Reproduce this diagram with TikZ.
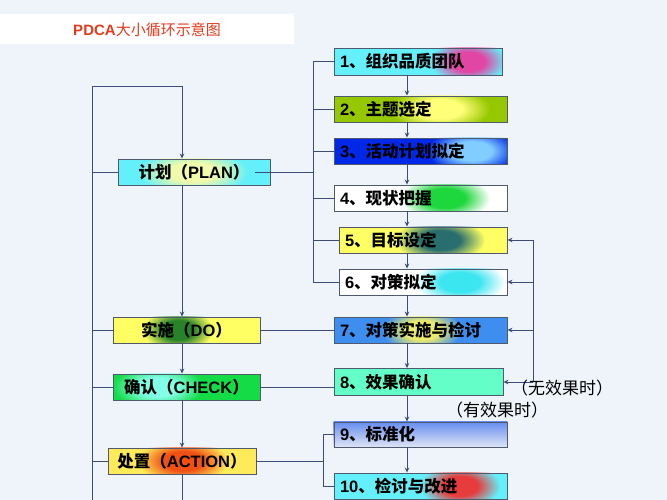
\documentclass[tikz,border=0pt]{standalone}
\usepackage{fontspec}
\setmainfont{Liberation Sans}
\newfontfamily\cjk{Noto Sans CJK SC}
\usetikzlibrary{arrows.meta,calc,fadings}
\pgfdeclarelayer{background}
\pgfsetlayers{background,main}
\definecolor{bgc}{RGB}{238,244,250}
\definecolor{linec}{RGB}{60,75,120}
\definecolor{bordc}{RGB}{80,90,110}
\definecolor{titlec}{RGB}{225,60,30}
\definecolor{cyanb}{RGB}{100,240,250}
\definecolor{pinkg}{RGB}{225,70,165}
\definecolor{oliveb}{RGB}{150,200,0}
\definecolor{yellg}{RGB}{255,255,120}
\definecolor{blueb}{RGB}{0,40,230}
\definecolor{blueg}{RGB}{130,205,255}
\definecolor{greeng}{RGB}{30,215,60}
\definecolor{yellb}{RGB}{255,255,100}
\definecolor{tealg}{RGB}{40,110,110}
\definecolor{cyang}{RGB}{60,230,240}
\definecolor{blue7}{RGB}{62,142,240}
\definecolor{yell7}{RGB}{235,235,110}
\definecolor{aquab}{RGB}{100,255,200}
\definecolor{top9}{RGB}{100,140,240}
\definecolor{bot9}{RGB}{225,230,245}
\definecolor{redg}{RGB}{230,60,60}
\definecolor{plang}{RGB}{240,250,170}
\definecolor{dog}{RGB}{40,130,40}
\definecolor{checkb}{RGB}{20,220,70}
\definecolor{checkg}{RGB}{130,255,230}
\definecolor{actb}{RGB}{255,235,90}
\definecolor{actg}{RGB}{240,80,20}
\pgfdeclareradialshading{glowsh}{\pgfpointorigin}{color(0bp)=(white); color(11bp)=(white); color(25bp)=(black); color(50bp)=(black)}
\pgfdeclarefading{glowp}{\pgfuseshading{glowsh}}
\newcommand\zh[1]{{\cjk #1}}
\newcommand\boxfill[5]{%
  \begin{pgfonlayer}{background}
    \fill[#2] (#1.north west) rectangle (#1.south east);
    \begin{scope}
      \clip (#1.north west) rectangle (#1.south east);
      \fill[#3, path fading=glowp] (#1.center -| #4,0) ellipse (#5pt and 22pt);
    \end{scope}
  \end{pgfonlayer}}
\tikzset{
  line/.style={draw=linec, line width=0.9pt},
  arr/.style={-{Stealth[length=5pt,width=4.5pt]}},
  rbox/.style={draw=bordc, line width=0.9pt, inner xsep=6pt, inner ysep=0pt,
    align=left, font=\bfseries\fontsize{16.5}{18}\selectfont},
  cbox/.style={draw=bordc, line width=0.9pt, inner xsep=0pt, inner ysep=0pt,
    align=center, font=\bfseries\fontsize{16.5}{18}\selectfont},
  lab/.style={font=\cjk\fontsize{17}{19}\selectfont, inner sep=0pt},
  ttl/.style={text=titlec, font=\fontsize{15}{17}\selectfont, inner sep=0pt}
}
\begin{document}
\begin{tikzpicture}[x=1pt,y=-1pt]
\useasboundingbox (0,0) rectangle (667,500);
\begin{pgfonlayer}{background}
  \fill[bgc] (0,0) rectangle (667,500);
  \fill[white] (0,14) rectangle (294,44);
\end{pgfonlayer}
\node[ttl] (t) at (147,30) {\textbf{PDCA}\zh{大小循环示意图}};

% coordinates
\coordinate (lx) at (92,86);
\coordinate (cx) at (182,0);
\coordinate (rx) at (407,0);
\coordinate (bus) at (313,0);
\coordinate (rbus) at (533,0);
\coordinate (abus) at (323,0);
\coordinate (bot) at (0,505);

% right column boxes
\node[rbox, text width=156pt, minimum height=27pt] (b1) at (418,61.5) {1\zh{、组织品质团队}};
\node[rbox, text width=161pt, minimum height=26pt] (b2) at (420.5,109) {2\zh{、主题选定}};
\node[rbox, text width=161pt, minimum height=26pt] (b3) at (420.5,151) {3\zh{、活动计划拟定}};
\node[rbox, text width=161pt, minimum height=26pt] (b4) at (420.5,198) {4\zh{、现状把握}};
\node[rbox, text width=156pt, minimum height=26pt] (b5) at (423,240) {5\zh{、目标设定}};
\node[rbox, text width=156pt, minimum height=26pt] (b6) at (423,282) {6\zh{、对策拟定}};
\node[rbox, text width=161pt, minimum height=26pt] (b7) at (420.5,330) {7\zh{、对策实施与检讨}};
\node[rbox, text width=157pt, minimum height=27pt] (b8) at (418.5,382) {8\zh{、效果确认}};
\node[rbox, text width=161pt, minimum height=25pt] (b9) at (420.5,434.5) {9\zh{、标准化}};
\node[rbox, text width=161pt, minimum height=26pt] (b10) at (420.5,486) {10\zh{、检讨与改进}};

% left column boxes
\node[cbox, minimum width=152pt, minimum height=26pt] (PLAN) at (194,172) {\zh{计划（}PLAN\zh{）}};
\node[cbox, minimum width=147pt, minimum height=26pt] (DO) at (186.5,330) {\zh{实施（}DO\zh{）}};
\node[cbox, minimum width=147pt, minimum height=26pt] (CHECK) at (186.5,387) {\zh{确认（}CHECK\zh{）}};
\node[cbox, minimum width=148pt, minimum height=26pt] (ACTION) at (182,461) {\zh{处置（}ACTION\zh{）}};

% fills
\boxfill{b1}{cyanb}{pinkg}{468}{38}
\boxfill{b2}{oliveb}{yellg}{440}{50}
\boxfill{b3}{blueb}{blueg}{472}{45}
\boxfill{b4}{white}{greeng}{445}{45}
\boxfill{b5}{yellb}{tealg}{440}{45}
\boxfill{b6}{white}{cyang}{460}{45}
\boxfill{b7}{blue7}{yell7}{422}{40}
\begin{pgfonlayer}{background}
  \fill[aquab] (b8.north west) rectangle (b8.south east);
  \shade[top color=top9, bottom color=bot9] (b9.north west) rectangle (b9.south east);
\end{pgfonlayer}
\boxfill{b10}{cyanb}{redg}{460}{40}
\boxfill{PLAN}{cyanb}{plang}{193}{55}
\boxfill{DO}{yellb}{dog}{178}{35}
\boxfill{CHECK}{checkb}{checkg}{158}{45}
\boxfill{ACTION}{actb}{actg}{183}{45}

% left big loop
\draw[line,arr] (lx |- bot) -- (lx) -- (lx -| cx) -- (PLAN.north -| cx);
\foreach \n in {PLAN,DO,CHECK,ACTION}
  \draw[line] (\n.west) -- (\n.west -| lx);
\draw[line,arr] (PLAN.south -| cx) -- (DO.north -| cx);
\draw[line,arr] (DO.south -| cx) -- (CHECK.north -| cx);
\draw[line,arr] (CHECK.south -| cx) -- (ACTION.north -| cx);
\draw[line] (ACTION.south -| cx) -- (cx |- bot);

% PLAN to steps 1-6
\draw[line] ([xshift=-15pt]PLAN.east) -- (PLAN.east -| bus);
\draw[line] (b1.west -| bus) -- (b6.west -| bus);
\foreach \i in {1,...,6}
  \draw[line] (b\i.west -| bus) -- (b\i.west);

% step chain
\foreach \i/\j in {1/2,2/3,3/4,4/5,5/6,6/7,7/8,8/9,9/10}
  \draw[line,arr] (b\i.south -| rx) -- (b\j.north -| rx);

% feedback loop
\draw[line] (b5.east -| rbus) -- (b8.east -| rbus);
\foreach \i in {5,6,7,8}
  \draw[line,arr] (b\i.east -| rbus) -- (b\i.east);

% DO, CHECK, ACTION to steps
\draw[line] (DO.east) -- (b7.west);
\draw[line] (CHECK.east) -- (CHECK.east -| b8.west);
\draw[line] (ACTION.east) -- (ACTION.east -| abus);
\draw[line] (b9.west -| abus) -- (b10.west -| abus);
\draw[line] (b9.west -| abus) -- (b9.west);
\draw[line] (b10.west -| abus) -- (b10.west);

% labels
\node[lab] (l1) at (562,388) {（无效果时）};
\node[lab] (l2) at (497,410) {（有效果时）};
\end{tikzpicture}
\end{document}
